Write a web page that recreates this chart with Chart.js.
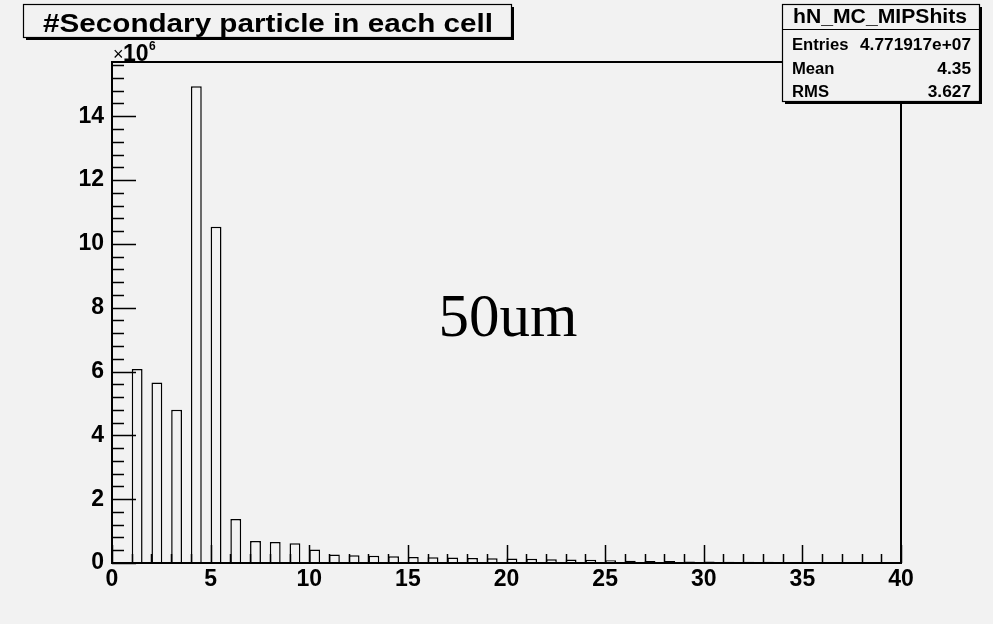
<!DOCTYPE html>
<html>
<head>
<meta charset="utf-8">
<script src="https://cdn.jsdelivr.net/npm/chart.js@4/dist/chart.umd.min.js"></script>
<style>
  html, body { margin: 0; padding: 0; background: #f2f2f2; }
  #wrap { width: 993px; height: 624px; }
</style>
</head>
<body>
<div id="wrap"><canvas id="c" width="993" height="624"></canvas></div>
<script>
// low edge of every bin
const binEdges = [0, 1, 2, 3, 4, 5, 6, 7, 8, 9, 10, 11, 12, 13, 14, 15, 16, 17, 18, 19,
                  20, 21, 22, 23, 24, 25, 26, 27, 28, 29, 30, 31, 32, 33, 34, 35, 36, 37, 38, 39];
// entries per bin, in units of 10^6
const counts = [0, 6.08, 5.66, 4.80, 14.94, 10.54, 1.38, 0.69, 0.66, 0.62,
                0.42, 0.27, 0.24, 0.23, 0.21, 0.19, 0.18, 0.17, 0.16, 0.15,
                0.14, 0.13, 0.12, 0.11, 0.10, 0.09, 0.07, 0.06, 0.06, 0.05,
                0.05, 0.04, 0.04, 0.04, 0.03, 0.03, 0.03, 0.03, 0.02, 0.02];
const xTickLabels = [0, 5, 10, 15, 20, 25, 30, 35, 40];
const yTickLabels = [0, 2, 4, 6, 8, 10, 12, 14];

const titleText = '#Secondary particle in each cell';
const statsName = 'hN_MC_MIPShits';
const statsLabels = ['Entries', 'Mean', 'RMS'];
const statsValues = ['4.771917e+07', '4.35', '3.627'];
const noteText = '50um';

const BG = '#f2f2f2';
const SANS = '"Liberation Sans", Arial, sans-serif';
const barOffset = 0.275;   // bars sit in the left half of each bin

// draw text; sx stretches it horizontally, width forces a width
function putText(ctx, txt, x, y, font, align, width, sx) {
  ctx.save();
  ctx.font = font;
  ctx.fillStyle = '#000';
  ctx.textBaseline = 'alphabetic';
  const w = ctx.measureText(txt).width;
  const k = width ? width / w : (sx || 1);
  let left = x;
  if (align === 'center') left = x - w * k / 2;
  if (align === 'right') left = x - w * k;
  ctx.translate(left, y);
  ctx.scale(k, 1);
  ctx.textAlign = 'left';
  ctx.fillText(txt, 0, 0);
  ctx.restore();
}

function box(ctx, x0, y0, x1, y1) {
  ctx.fillStyle = BG;
  ctx.fillRect(x0, y0, x1 - x0, y1 - y0);
  ctx.strokeStyle = '#000';
  ctx.lineWidth = 1.2;
  ctx.strokeRect(x0 + 0.5, y0 + 0.5, x1 - x0, y1 - y0);
  ctx.fillStyle = '#000';
  ctx.fillRect(x1, y0 + 3, 3, y1 - y0);      // shadow right
  ctx.fillRect(x0 + 3, y1, x1 - x0, 3);      // shadow bottom
}

const rootLook = {
  id: 'rootLook',
  beforeDraw(chart) {
    const ctx = chart.ctx;
    ctx.save();
    ctx.fillStyle = BG;
    ctx.fillRect(0, 0, chart.width, chart.height);
    ctx.restore();
  },
  afterDatasetsDraw(chart) {
    const ctx = chart.ctx;
    const a = chart.chartArea;
    const xs = chart.scales.x, ys = chart.scales.y;
    ctx.save();
    ctx.strokeStyle = '#000';
    ctx.lineWidth = 1.5;
    ctx.beginPath();
    // x ticks, pointing up into the frame
    for (let v = xs.min; v <= xs.max + 1e-9; v += 1) {
      const px = Math.round(xs.getPixelForValue(v)) + 0.5;
      const len = v % 5 === 0 ? 18 : 9;
      ctx.moveTo(px, a.bottom);
      ctx.lineTo(px, a.bottom - len);
    }
    // y ticks, pointing right into the frame
    for (let i = 0; i * 0.4 <= ys.max + 1e-9; i++) {
      const v = i * 0.4;
      const py = Math.round(ys.getPixelForValue(v)) + 0.5;
      const len = i % 5 === 0 ? 24 : 12;
      ctx.moveTo(a.left, py);
      ctx.lineTo(a.left + len, py);
    }
    ctx.stroke();
    // frame
    ctx.lineWidth = 2;
    ctx.strokeRect(a.left, a.top, a.right - a.left, a.bottom - a.top);
    ctx.restore();
  },
  afterDraw(chart) {
    const ctx = chart.ctx;
    const a = chart.chartArea;
    ctx.save();

    // title box
    box(ctx, 23, 4, 511, 37);
    putText(ctx, titleText, 268, 32, 'bold 26px ' + SANS, 'center', 450);

    // stats box
    box(ctx, 782, 4, 979, 101);
    ctx.strokeStyle = '#000';
    ctx.lineWidth = 1.2;
    ctx.beginPath();
    ctx.moveTo(782, 29.5);
    ctx.lineTo(979, 29.5);
    ctx.stroke();
    putText(ctx, statsName, 880, 23, 'bold 20px ' + SANS, 'center', 174);
    const rowY = [49.5, 73.5, 97];
    statsLabels.forEach((lab, i) => {
      putText(ctx, lab, 792, rowY[i], 'bold 16px ' + SANS, 'left', null, 1.04);
      putText(ctx, statsValues[i], 971, rowY[i], 'bold 16px ' + SANS, 'right', null, 1.08);
    });

    // exponent of the y axis
    putText(ctx, '\u00d7', a.left + 1, 60, '18px ' + SANS, 'left', null);
    putText(ctx, '10', a.left + 11, 61, 'bold 23px ' + SANS, 'left', null);
    putText(ctx, '6', a.left + 37, 50, 'bold 12px ' + SANS, 'left', null);

    // annotation
    putText(ctx, noteText, 508, 336, '61px "Liberation Serif", "Times New Roman", serif', 'center', null);
    ctx.restore();
  }
};

new Chart(document.getElementById('c'), {
  type: 'bar',
  data: {
    datasets: [{
      data: binEdges.map((e, i) => ({ x: e + barOffset, y: counts[i] })),
      backgroundColor: BG,
      borderColor: '#000',
      borderWidth: 1.5,
      barPercentage: 0.55,
      categoryPercentage: 1
    }]
  },
  options: {
    responsive: false,
    animation: false,
    events: [],
    layout: { padding: { left: 0, right: 92, top: 62, bottom: 0 } },
    plugins: { legend: { display: false }, tooltip: { enabled: false } },
    scales: {
      x: {
        type: 'linear',
        min: 0,
        max: 40,
        offset: false,
        grid: { display: false, drawTicks: false },
        border: { display: false },
        afterBuildTicks: s => { s.ticks = xTickLabels.map(v => ({ value: v })); },
        afterFit: s => { s.height = 61; },
        ticks: {
          padding: 3,
          color: '#000',
          autoSkip: false,
          maxRotation: 0,
          font: { family: SANS, size: 23, weight: 'bold' }
        }
      },
      y: {
        type: 'linear',
        min: 0,
        max: 15.7,
        grid: { display: false, drawTicks: false },
        border: { display: false },
        afterBuildTicks: s => { s.ticks = yTickLabels.map(v => ({ value: v })); },
        afterFit: s => { s.width = 112; },
        ticks: {
          padding: 8,
          color: '#000',
          autoSkip: false,
          font: { family: SANS, size: 23, weight: 'bold' }
        }
      }
    }
  },
  plugins: [rootLook]
});
</script>
</body>
</html>
